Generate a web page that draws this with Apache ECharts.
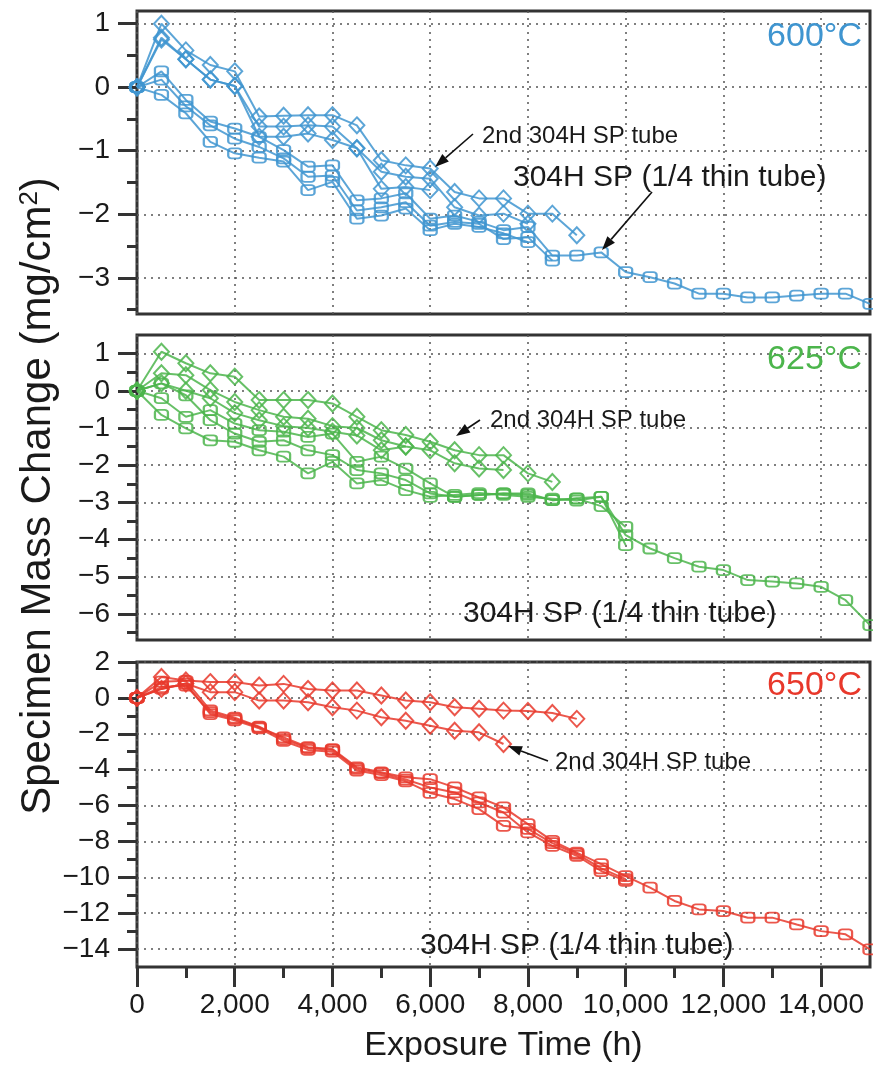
<!DOCTYPE html>
<html><head><meta charset="utf-8">
<script src="https://cdn.jsdelivr.net/npm/echarts@6/dist/echarts.min.js"></script>
<style>html,body{margin:0;padding:0;background:#fff}#c{width:873px;height:1078px}</style>
</head><body><div id="c"></div>
<script>
// ---------- data ----------
const hours = [0,500,1000,1500,2000,2500,3000,3500,4000,4500,5000,5500,6000,6500,7000,7500,8000,8500,9000,9500,10000,10500,11000,11500,12000,12500,13000,13500,14000,14500,15000];

const xTicks = [0,2000,4000,6000,8000,10000,12000,14000];
const xMinorTicks = [1000,3000,5000,7000,9000,11000,13000];
const xRange = [0,15000];

// 600 °C
const yRange600 = [-3.57, 1.2];
const yTicks600 = [-3,-2,-1,0,1];
const yMinor600 = [-3.5,-2.5,-1.5,-0.5,0.5];
const sq600a = [0,0.25,-0.2,-0.54,-0.65,-0.78,-0.99,-1.25,-1.23,-1.78,-1.75,-1.67,-2.07,-2.02,-2.12,-2.25,-2.2,-2.65,-2.65,-2.6,-2.91,-2.99,-3.09,-3.25,-3.25,-3.31,-3.31,-3.28,-3.25,-3.25,-3.41];
const sq600b = [0,0.12,-0.3,-0.6,-0.81,-0.94,-1.12,-1.41,-1.39,-1.94,-1.89,-1.81,-2.18,-2.12,-2.15,-2.39,-2.36,-2.73];
const sq600c = [0,-0.12,-0.41,-0.86,-1.04,-1.11,-1.17,-1.62,-1.49,-2.07,-2.02,-1.91,-2.25,-2.15,-2.2,-2.3,-2.44];
const dm600a = [0,1.0,0.58,0.35,0.25,-0.46,-0.45,-0.44,-0.44,-0.6,-1.15,-1.23,-1.28,-1.65,-1.75,-1.75,-1.99,-1.99,-2.33];
const dm600b = [0,0.78,0.44,0.12,0.02,-0.62,-0.62,-0.6,-0.62,-0.96,-1.33,-1.41,-1.44,-1.89,-2.02,-1.99,-2.15];
const dm600c = [0,0.75,0.44,0.12,0.02,-0.78,-0.78,-0.73,-0.83,-0.96,-1.6,-1.57,-1.62];

// 625 °C
const yRange625 = [-6.7, 1.5];
const yTicks625 = [-6,-5,-4,-3,-2,-1,0,1];
const yMinor625 = [-6.5,-5.5,-4.5,-3.5,-2.5,-1.5,-0.5,0.5];
const sq625a = [0,-0.2,-0.7,-0.52,-0.88,-1.06,-1.1,-1.24,-1.15,-1.91,-1.77,-2.09,-2.49,-2.85,-2.8,-2.76,-2.76,-2.94,-2.89,-2.85,-3.88,-4.24,-4.5,-4.73,-4.82,-5.09,-5.13,-5.18,-5.27,-5.63,-6.3];
const sq625b = [0,0.2,-0.12,-0.79,-1.15,-1.37,-1.33,-1.6,-1.73,-2.13,-2.22,-2.4,-2.76,-2.85,-2.8,-2.76,-2.8,-2.94,-2.9,-3.1,-3.66];
const sq625c = [0,-0.65,-1.01,-1.33,-1.37,-1.6,-1.77,-2.22,-1.91,-2.49,-2.4,-2.67,-2.85,-2.8,-2.75,-2.8,-2.85,-2.9,-2.95,-2.85,-4.15];
const dm625a = [0,1.05,0.74,0.47,0.38,-0.25,-0.25,-0.25,-0.34,-0.7,-1.06,-1.19,-1.37,-1.6,-1.73,-1.73,-2.22,-2.45];
const dm625b = [0,0.47,0.42,0.02,-0.3,-0.52,-0.7,-0.75,-0.95,-1.0,-1.33,-1.5,-1.6,-1.95,-2.09,-2.13];
const dm625c = [0,0.2,0.0,-0.2,-0.6,-0.79,-0.95,-1.0,-1.1,-1.2,-1.6,-1.5];

// 650 °C
const yRange650 = [-15, 2];
const yTicks650 = [-14,-12,-10,-8,-6,-4,-2,0,2];
const yMinor650 = [-13,-11,-9,-7,-5,-3,-1,1];
const sq650a = [0,0.6,0.69,-0.8,-1.17,-1.64,-2.2,-2.75,-2.85,-3.87,-4.15,-4.43,-4.53,-4.99,-5.55,-6.1,-7.04,-7.97,-8.62,-9.27,-9.93,-10.58,-11.32,-11.79,-11.88,-12.25,-12.25,-12.63,-13.0,-13.18,-14.02];
const sq650b = [0,0.9,0.95,-0.7,-1.1,-1.6,-2.3,-2.8,-2.9,-3.95,-4.2,-4.55,-4.99,-5.27,-5.83,-6.39,-7.5,-8.25,-8.8,-9.65,-10.2];
const sq650c = [0,0.5,0.8,-0.9,-1.25,-1.7,-2.4,-2.9,-3.0,-4.05,-4.3,-4.65,-5.3,-5.64,-6.2,-7.13,-7.3,-8.1,-8.7,-9.5,-10.1];
const dm650a = [0,1.16,0.97,0.88,0.88,0.69,0.78,0.5,0.41,0.41,0.13,-0.15,-0.24,-0.52,-0.61,-0.71,-0.73,-0.84,-1.17];
const dm650b = [0,0.5,0.8,0.32,0.32,-0.15,-0.15,-0.24,-0.52,-0.71,-1.08,-1.27,-1.55,-1.83,-1.92,-2.57];

const panelLabels = ['600°C','625°C','650°C'];
const colors = ['#3f95d0','#4cb54c','#e8382b'];

// ---------- chart ----------
const FONT = '"Liberation Sans", Arial, Helvetica, sans-serif';
const chart = echarts.init(document.getElementById('c'), null, {renderer:'canvas'});

const grids = [
  {left:137, top:11, width:733, height:303},
  {left:137, top:335, width:733, height:305},
  {left:137, top:662, width:733, height:305}
].map(g => Object.assign(g, {show:true, borderColor:'#333', borderWidth:3, backgroundColor:'rgba(0,0,0,0)', containLabel:false}));

const dotted = {type:[2,5], color:'#555', width:1.5};
const tickStyle = {width:3, color:'#333'};
const fmtNum = v => String(v).replace('-', '\u2212');

const xAxes = [], yAxes = [];
const yRanges = [yRange600, yRange625, yRange650];
const yTicksAll = [yTicks600, yTicks625, yTicks650];
const yMinorAll = [yMinor600, yMinor625, yMinor650];
for (let i = 0; i < 3; i++) {
  const last = i === 2;
  xAxes.push({
    gridIndex:i, type:'value', min:xRange[0], max:xRange[1], position:'bottom',
    axisLine:{show:false, onZero:false},
    axisTick:{show:last, customValues:xTicks, length:20, lineStyle:tickStyle},
    axisLabel:{show:last, customValues:xTicks, fontSize:28, fontFamily:FONT, color:'#1a1a1a', margin:24,
      formatter: v => v.toLocaleString('en-US')},
    splitLine:{show:true, lineStyle:dotted},
    name: last ? 'Exposure Time (h)' : '', nameLocation:'middle', nameGap:62,
    nameTextStyle:{fontSize:34, fontFamily:FONT, color:'#1a1a1a'}
  });
  yAxes.push({
    gridIndex:i, type:'value', min:yRanges[i][0], max:yRanges[i][1], position:'left',
    axisLine:{show:false, onZero:false},
    axisTick:{show:true, customValues:yTicksAll[i], length:19, lineStyle:tickStyle},
    axisLabel:{show:true, customValues:yTicksAll[i], fontSize:28, fontFamily:FONT, color:'#1a1a1a', margin:27,
      formatter: fmtNum},
    splitLine:{show:true, lineStyle:dotted}
  });
}
// minor tick axes
for (let i = 0; i < 3; i++) {
  yAxes.push({
    gridIndex:i, type:'value', min:yRanges[i][0], max:yRanges[i][1], position:'left',
    axisLine:{show:false, onZero:false},
    axisTick:{show:true, customValues:yMinorAll[i], length:10, lineStyle:tickStyle},
    axisLabel:{show:false}, splitLine:{show:false}
  });
}
xAxes.push({
  gridIndex:2, type:'value', min:xRange[0], max:xRange[1], position:'bottom',
  axisLine:{show:false, onZero:false},
  axisTick:{show:true, customValues:xMinorTicks, length:11, lineStyle:tickStyle},
  axisLabel:{show:false}, splitLine:{show:false}
});

function mk(vals, gi, kind) {
  const c = colors[gi];
  const isSq = kind === 'sq';
  return {
    type:'line', xAxisIndex:gi, yAxisIndex:gi,
    data: vals.map((v, k) => [hours[k], v]),
    symbol: isSq ? 'roundRect' : 'diamond',
    symbolSize: isSq ? [13, 10] : [15, 16],
    showAllSymbol:true,
    lineStyle:{color:c, width:2, opacity:0.85},
    itemStyle:{color:'rgba(255,255,255,0)', borderColor:c, borderWidth:2, opacity:0.85},
    emphasis:{disabled:true},
    animation:false, silent:true
  };
}

const series = [
  mk(dm600a,0,'dm'), mk(dm600b,0,'dm'), mk(dm600c,0,'dm'),
  mk(sq600c,0,'sq'), mk(sq600b,0,'sq'), mk(sq600a,0,'sq'),
  mk(dm625a,1,'dm'), mk(dm625b,1,'dm'), mk(dm625c,1,'dm'),
  mk(sq625c,1,'sq'), mk(sq625b,1,'sq'), mk(sq625a,1,'sq'),
  mk(dm650a,2,'dm'), mk(dm650b,2,'dm'),
  mk(sq650c,2,'sq'), mk(sq650b,2,'sq'), mk(sq650a,2,'sq')
];

// ---------- annotations ----------
function txt(x, y, s, size, color, align) {
  return {type:'text', x, y, z:50, silent:true,
    style:{text:s, fontSize:size, fontFamily:FONT, fill:color, align:align||'left', verticalAlign:'middle'}};
}
function arrow(x1, y1, x2, y2) {
  const dx = x2 - x1, dy = y2 - y1, L = Math.hypot(dx, dy);
  const ux = dx / L, uy = dy / L, nx = -uy, ny = ux, hl = 14, hw = 5;
  const bx = x2 - ux * hl, by = y2 - uy * hl;
  return [
    {type:'line', z:50, silent:true, shape:{x1, y1, x2:bx, y2:by}, style:{stroke:'#111', lineWidth:1.6}},
    {type:'polygon', z:50, silent:true, shape:{points:[[x2, y2],[bx + nx*hw, by + ny*hw],[bx - nx*hw, by - ny*hw]]}, style:{fill:'#111'}}
  ];
}

const graphic = [
  txt(862, 37, panelLabels[0], 34, colors[0], 'right'),
  txt(862, 360, panelLabels[1], 34, colors[1], 'right'),
  txt(862, 686, panelLabels[2], 34, colors[2], 'right'),
  txt(482, 136, '2nd 304H SP tube', 24, '#1a1a1a'),
  txt(513, 178, '304H SP (1/4 thin tube)', 30, '#1a1a1a'),
  txt(490, 420, '2nd 304H SP tube', 24, '#1a1a1a'),
  txt(463, 614, '304H SP (1/4 thin tube)', 30, '#1a1a1a'),
  txt(555, 762, '2nd 304H SP tube', 24, '#1a1a1a'),
  txt(420, 946, '304H SP (1/4 thin tube)', 30, '#1a1a1a'),
  ...arrow(473, 134, 435, 167),
  ...arrow(652, 192, 602, 250),
  ...arrow(480, 420, 456, 436),
  ...arrow(548, 761, 508, 746),
  {type:'text', x:38, y:496, rotation:Math.PI/2, z:50, silent:true,
    style:{text:'Specimen Mass Change (mg/cm{sup|2})', fontSize:42, fontFamily:FONT, fill:'#1a1a1a',
      align:'center', verticalAlign:'middle',
      rich:{sup:{fontSize:26, fontFamily:FONT, fill:'#1a1a1a', verticalAlign:'top', lineHeight:42}}}}
];

chart.setOption({
  animation:false,
  backgroundColor:'#fff',
  grid: grids,
  xAxis: xAxes,
  yAxis: yAxes,
  series,
  graphic
});
</script>
</body></html>
